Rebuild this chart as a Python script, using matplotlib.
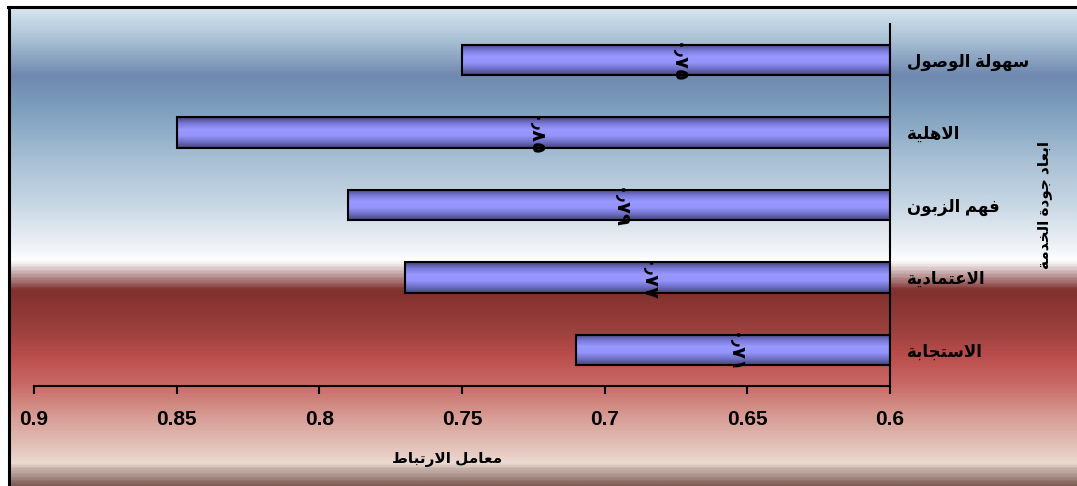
import numpy as np
import matplotlib.pyplot as plt
from matplotlib.colors import LinearSegmentedColormap
from matplotlib.lines import Line2D

# correlation of each service-quality dimension
dimensions = ["سهولة الوصول", "الاهلية", "فهم الزبون", "الاعتمادية", "الاستجابة"]
correlations = [0.75, 0.85, 0.79, 0.77, 0.71]
value_labels = ["٠٫٧٥", "٠٫٨٥", "٠٫٧٩", "٠٫٧٧", "٠٫٧١"]
x_ticks = [0.9, 0.85, 0.8, 0.75, 0.7, 0.65, 0.6]
x_title = "معامل الارتباط"
y_title = "ابعاد جودة الخدمة"

# isolated, final, initial, medial presentation forms
FORMS = {
    "ا": ("\uFE8D", "\uFE8E", None, None),
    "ب": ("\uFE8F", "\uFE90", "\uFE91", "\uFE92"),
    "ة": ("\uFE93", "\uFE94", None, None),
    "ت": ("\uFE95", "\uFE96", "\uFE97", "\uFE98"),
    "ج": ("\uFE9D", "\uFE9E", "\uFE9F", "\uFEA0"),
    "خ": ("\uFEA5", "\uFEA6", "\uFEA7", "\uFEA8"),
    "د": ("\uFEA9", "\uFEAA", None, None),
    "ر": ("\uFEAD", "\uFEAE", None, None),
    "ز": ("\uFEAF", "\uFEB0", None, None),
    "س": ("\uFEB1", "\uFEB2", "\uFEB3", "\uFEB4"),
    "ص": ("\uFEB9", "\uFEBA", "\uFEBB", "\uFEBC"),
    "ط": ("\uFEC1", "\uFEC2", "\uFEC3", "\uFEC4"),
    "ع": ("\uFEC9", "\uFECA", "\uFECB", "\uFECC"),
    "ف": ("\uFED1", "\uFED2", "\uFED3", "\uFED4"),
    "ل": ("\uFEDD", "\uFEDE", "\uFEDF", "\uFEE0"),
    "م": ("\uFEE1", "\uFEE2", "\uFEE3", "\uFEE4"),
    "ن": ("\uFEE5", "\uFEE6", "\uFEE7", "\uFEE8"),
    "ه": ("\uFEE9", "\uFEEA", "\uFEEB", "\uFEEC"),
    "و": ("\uFEED", "\uFEEE", None, None),
    "ي": ("\uFEF1", "\uFEF2", "\uFEF3", "\uFEF4"),
    "لا": ("\uFEFB", "\uFEFC", None, None),
}


def shape_arabic(text):
    # join letters into contextual forms, then reverse for left-to-right drawing
    units = []
    i = 0
    while i < len(text):
        if text[i:i + 2] == "لا":
            units.append("لا")
            i += 2
        else:
            units.append(text[i])
            i += 1
    out = []
    for k, u in enumerate(units):
        if u not in FORMS:
            out.append(u)
            continue
        prev = units[k - 1] if k > 0 else None
        nxt = units[k + 1] if k + 1 < len(units) else None
        joins_prev = prev in FORMS and FORMS[prev][2] is not None
        joins_next = FORMS[u][2] is not None and nxt in FORMS
        iso, fin, ini, med = FORMS[u]
        if joins_prev and joins_next:
            out.append(med)
        elif joins_prev:
            out.append(fin)
        elif joins_next:
            out.append(ini)
        else:
            out.append(iso)
    return "".join(out)[::-1]


plt.rcParams["font.family"] = ["Liberation Sans", "DejaVu Sans"]
plt.rcParams["font.weight"] = "bold"
plt.rcParams["axes.labelweight"] = "bold"

W, H = 1077, 486
fig = plt.figure(figsize=(W / 100, H / 100), dpi=100)

# background gradient behind the chart
stops = [
    (0.000, "#d6e4ee"), (0.065, "#a8c0d4"), (0.139, "#7088b0"),
    (0.212, "#7ea0be"), (0.317, "#a8c0d4"), (0.400, "#c4d4e2"),
    (0.480, "#e6ecf2"), (0.530, "#ffffff"), (0.539, "#e8dcdc"),
    (0.558, "#c0a0a0"), (0.579, "#985858"), (0.590, "#80302e"),
    (0.673, "#9a403e"), (0.725, "#b84c4a"), (0.788, "#c86864"),
    (0.862, "#d8a098"), (0.925, "#e4c4bc"), (0.956, "#ecdcd4"),
    (0.966, "#c8b4ac"), (0.983, "#a89088"), (1.000, "#806058"),
]
bg_cmap = LinearSegmentedColormap.from_list("bg", stops)
bg = fig.add_axes([10 / W, 0, 1 - 10 / W, (H - 9) / H])
bg.imshow(np.linspace(0, 1, 400).reshape(-1, 1), cmap=bg_cmap, aspect="auto")
bg.set_axis_off()

fig.add_artist(Line2D([9 / W, 9 / W], [0, 1 - 7 / H], color="black", lw=2.2))
fig.add_artist(Line2D([8 / W, 1], [1 - 7 / H, 1 - 7 / H], color="black", lw=2.2))

ax = fig.add_axes([34 / W, (H - 386) / H, (890 - 34) / W, (386 - 24) / H])
ax.set_facecolor("none")

y = np.arange(len(dimensions))
vals = np.array(correlations)
bars = ax.barh(y, vals - 0.6, left=0.6, height=0.42, color="none",
               edgecolor="black", linewidth=1.5, zorder=3)

bar_cmap = LinearSegmentedColormap.from_list(
    "bar", ["#44447a", "#7878d8", "#9898ff", "#9494fc", "#7070c8", "#44447a"])
grad = np.linspace(0, 1, 100).reshape(-1, 1)
for b in bars:
    x0, y0 = b.get_x(), b.get_y()
    im = ax.imshow(grad, cmap=bar_cmap, aspect="auto", zorder=2,
                   extent=(x0, x0 + b.get_width(), y0 + b.get_height(), y0))
    im.set_clip_path(b)

for yi, v, lab in zip(y, vals, value_labels):
    ax.text((0.6 + v) / 2, yi + 0.05, lab, rotation=-90, ha="center", va="center",
            fontsize=14, family="DejaVu Sans", fontweight="bold", zorder=4)

ax.set_xlim(0.9, 0.6)
ax.set_ylim(len(dimensions) - 0.5, -0.5)
ax.set_xticks(x_ticks)
ax.set_xticklabels([f"{t:g}" for t in x_ticks], fontsize=15)
ax.tick_params(axis="x", direction="out", length=6, width=1.5, pad=11)

ax.yaxis.tick_right()
ax.set_yticks(y)
ax.set_yticklabels([shape_arabic(d) for d in dimensions], fontsize=12)
ax.tick_params(axis="y", length=0, pad=12)
for t in ax.get_yticklabels():
    t.set_horizontalalignment("left")

ax.set_xlabel(shape_arabic(x_title), fontsize=11)
ax.xaxis.set_label_coords(0.4825, -0.182)
ax.yaxis.set_label_position("right")
ax.set_ylabel(shape_arabic(y_title), fontsize=11, rotation=90, va="center")
ax.yaxis.set_label_coords((1045 - 34) / 856, 0.5)

for side in ("left", "top"):
    ax.spines[side].set_visible(False)
ax.spines["bottom"].set_linewidth(1.5)
ax.spines["right"].set_linewidth(1.5)

fig.savefig("out.png", dpi=100)
